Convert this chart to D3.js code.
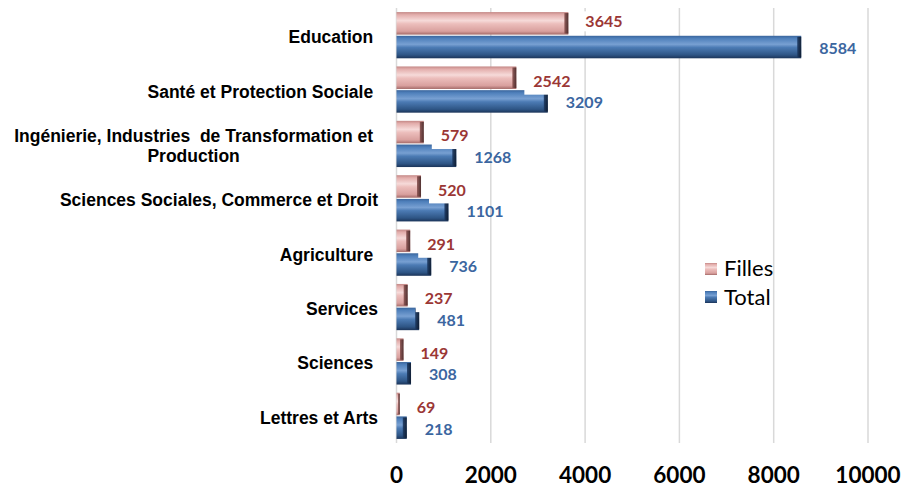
<!DOCTYPE html>
<html><head><meta charset="utf-8">
<script src="https://cdn.jsdelivr.net/npm/d3@7/dist/d3.min.js"></script>
<style>body{margin:0;background:#fff}svg{display:block}</style>
</head><body><svg id="c" width="910" height="488"></svg>
<script>
const categories = ["Education ", "Santé et Protection Sociale ", "Ingénierie, Industries  de Transformation et\nProduction", "Sciences Sociales, Commerce et Droit", "Agriculture ", "Services", "Sciences ", "Lettres et Arts"];
const filles = [3645, 2542, 579, 520, 291, 237, 149, 69];
const total = [8584, 3209, 1268, 1101, 736, 481, 308, 218];
const seriesNames = ["Filles", "Total"];
const xTicks = [0, 2000, 4000, 6000, 8000, 10000];

const svg = d3.select("#c");
const m = {left: 396.5, right: 868, top: 8, bottom: 443};
const x = d3.scaleLinear().domain([0, 10000]).range([m.left, m.right]);
const y = d3.scaleBand().domain(categories).range([m.top, m.bottom]).paddingInner(0.15).paddingOuter(0.075);
const ySub = d3.scaleBand().domain(seriesNames).range([0, y.bandwidth()]).paddingInner(0.05);

const defs = svg.append("defs");
function vgrad(id, stops){
  const g = defs.append("linearGradient").attr("id", id).attr("x1",0).attr("y1",0).attr("x2",0).attr("y2",1);
  stops.forEach(s => g.append("stop").attr("offset", s[0]).attr("stop-color", s[1]));
}
vgrad("gF", [[0,"#c48886"],[0.12,"#e3aeac"],[0.38,"#f6dad9"],[0.52,"#ecbebc"],[0.85,"#d9a09e"],[1,"#a46a68"]]);
vgrad("gT", [[0,"#3a659c"],[0.12,"#4f80bb"],[0.38,"#78a0d2"],[0.52,"#4c7bb4"],[0.85,"#2e5585"],[1,"#1b3459"]]);
function hgrad(id, c1, c2){
  const g = defs.append("linearGradient").attr("id", id).attr("x1",0).attr("y1",0).attr("x2",1).attr("y2",0);
  g.append("stop").attr("offset",0).attr("stop-color",c1);
  g.append("stop").attr("offset",1).attr("stop-color",c2);
}
hgrad("eF", "#8a5250", "#3e2020");
hgrad("eT", "#1d3a63", "#0b1628");

// gridlines
svg.append("g").selectAll("line").data(xTicks).join("line")
  .attr("x1", d => x(d)).attr("x2", d => x(d))
  .attr("y1", m.top).attr("y2", m.bottom)
  .attr("stroke", "#d9d9d9").attr("stroke-width", 1.5);

const rows = categories.map((c, i) => ({c, f: filles[i], t: total[i]}));

// bars
function drawBars(key, name, fillId, endId){
  const g = svg.append("g");
  rows.forEach(r => {
    const v = r[key];
    const y0 = y(r.c) + ySub(name), h = ySub.bandwidth();
    const w = x(v) - x(0);
    g.append("rect").attr("x", x(0)).attr("y", y0).attr("width", w).attr("height", h).attr("fill", `url(#${fillId})`);
    const ew = Math.min(4, w * 0.5);
    g.append("rect").attr("x", x(v) - ew).attr("y", y0 + 1).attr("width", ew).attr("height", h - 2)
      .attr("fill", `url(#${endId})`).attr("opacity", 0.9);
  });
}
drawBars("f", "Filles", "gF", "eF");
drawBars("t", "Total", "gT", "eT");

// data labels
const lblFont = "bold 16px Lato";
rows.forEach(r => {
  const yf = y(r.c) + ySub("Filles") + ySub.bandwidth() / 2;
  const yt = y(r.c) + ySub("Total") + ySub.bandwidth() / 2;
  const xf = x(r.f) + 17;
  const tf = svg.append("text").attr("x", xf)
    .attr("fill", "#9b3735").style("font", lblFont).text(r.f);
  const wlen = tf.node().getComputedTextLength();
  // label sits lower (with its box notching the Total bar) when it extends beyond the Total bar
  const beyond = xf + wlen > x(r.t);
  const cy = beyond ? yf + 3.5 : yf - 2;
  tf.attr("y", cy + 5.75);
  svg.insert("rect", function(){ return tf.node(); })
    .attr("x", xf - 9).attr("y", cy - 10)
    .attr("width", wlen + 13)
    .attr("height", beyond ? (y(r.c) + ySub("Total") + 4.5) - (cy - 10) : 20)
    .attr("fill", "#fff");
  svg.append("text").attr("x", x(r.t) + 18).attr("y", yt + 7)
    .attr("fill", "#3b66a0").style("font", lblFont).text(r.t);
});

// category labels
const catG = svg.append("g").style("font", "bold 17.5px 'Liberation Sans', Arial, sans-serif").attr("fill", "#000");
rows.forEach(r => {
  const cy = y(r.c) + y.bandwidth() / 2;
  const lines = r.c.split("\n");
  if (lines.length === 1) {
    catG.append("text").attr("x", 378).attr("y", cy + 8).attr("text-anchor", "end")
      .style("white-space", "pre").text(lines[0]);
  } else {
    const t = catG.append("text").attr("text-anchor", "middle").style("white-space", "pre");
    const spans = lines.map((l, i) => t.append("tspan").attr("y", cy + 8 + (i - (lines.length - 1) / 2) * 20 + 0.5).text(l));
    const maxW = d3.max(spans, s => s.node().getComputedTextLength());
    spans.forEach(s => s.attr("x", 373 - maxW / 2));
  }
});

// x tick labels
svg.append("g").selectAll("text").data(xTicks).join("text")
  .attr("x", d => x(d)).attr("y", 483).attr("text-anchor", "middle")
  .style("font", "bold 22.5px Lato").attr("fill", "#000").text(d => d);

// legend
const leg = svg.append("g");
[["Filles", "gF", 263, 275.5], ["Total", "gT", 291, 305]].forEach(([n, g, sy, ty]) => {
  leg.append("rect").attr("x", 705).attr("y", sy).attr("width", 12).attr("height", 12).attr("fill", `url(#${g})`);
  leg.append("text").attr("x", 724).attr("y", ty).style("font", "22px Lato").attr("fill", "#000").text(n);
});
</script></body></html>
